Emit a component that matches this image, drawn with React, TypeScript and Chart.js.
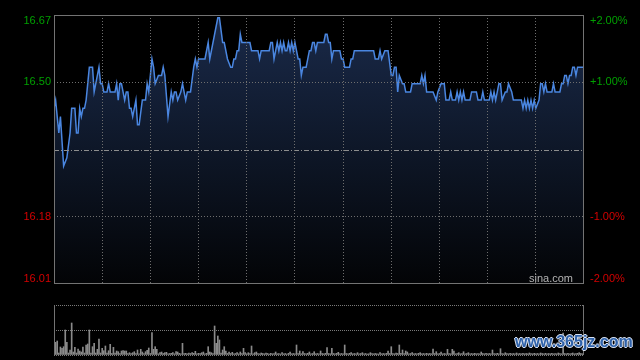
import React, { useEffect, useRef } from 'react';
import { Chart, registerables } from 'chart.js';

Chart.register(...registerables);

// ---- data ----
const prevClose = 16.34;
const sessionMinutes = 330; // 09:30-12:00, 13:00-16:00

const priceMinutes = [
  0, 1, 3, 4, 6, 8, 10, 11, 13, 14,
  15, 16, 17, 18, 19, 20, 22, 24, 25, 28,
  29, 30, 31, 33, 34, 35, 38, 39, 40, 41,
  42, 44, 45, 46, 47, 48, 49, 51, 52, 53,
  55, 57, 58, 59, 61, 62, 63, 65, 67, 68,
  69, 71, 73, 74, 75, 76, 77, 79, 80, 82,
  83, 85, 87, 88, 89, 90, 94, 96, 97, 100,
  102, 103, 105, 106, 108, 110, 111, 112, 113, 114,
  115, 116, 117, 122, 123, 127, 128, 129, 134, 135,
  136, 137, 139, 140, 141, 142, 143, 144, 145, 146,
  147, 148, 149, 150, 151, 152, 153, 154, 155, 157,
  159, 160, 161, 162, 163, 164, 168, 169, 170, 171,
  172, 173, 174, 178, 179, 180, 181, 184, 185, 186,
  187, 199, 200, 202, 203, 204, 206, 208, 210, 211,
  212, 213, 214, 215, 217, 218, 219, 222, 223, 228,
  229, 230, 231, 232, 236, 238, 239, 241, 243, 244,
  246, 247, 248, 250, 251, 252, 253, 254, 255, 256,
  259, 260, 263, 264, 266, 267, 268, 271, 272, 273,
  274, 275, 277, 278, 279, 281, 282, 283, 285, 286,
  291, 292, 293, 294, 295, 296, 297, 298, 299, 300,
  302, 303, 304, 305, 306, 307, 310, 311, 312, 315,
  316, 317, 318, 319, 320, 321, 322, 323, 324, 325,
  326, 330,
];

const prices = [
  16.44, 16.46, 16.38, 16.42, 16.30, 16.32, 16.38, 16.44, 16.44, 16.38,
  16.38, 16.44, 16.42, 16.44, 16.44, 16.46, 16.54, 16.54, 16.48, 16.54,
  16.50, 16.50, 16.48, 16.48, 16.50, 16.48, 16.48, 16.50, 16.46, 16.50,
  16.50, 16.46, 16.48, 16.48, 16.44, 16.44, 16.42, 16.46, 16.40, 16.40,
  16.46, 16.46, 16.50, 16.48, 16.56, 16.54, 16.50, 16.52, 16.52, 16.54,
  16.52, 16.42, 16.48, 16.46, 16.48, 16.48, 16.46, 16.48, 16.50, 16.46,
  16.48, 16.48, 16.54, 16.56, 16.54, 16.56, 16.56, 16.60, 16.56, 16.62,
  16.66, 16.66, 16.60, 16.60, 16.56, 16.54, 16.54, 16.56, 16.56, 16.58,
  16.58, 16.62, 16.60, 16.60, 16.58, 16.58, 16.56, 16.58, 16.58, 16.60,
  16.60, 16.56, 16.60, 16.58, 16.60, 16.58, 16.60, 16.58, 16.58, 16.60,
  16.58, 16.60, 16.58, 16.60, 16.58, 16.56, 16.56, 16.52, 16.54, 16.54,
  16.58, 16.58, 16.60, 16.60, 16.58, 16.60, 16.60, 16.62, 16.62, 16.60,
  16.60, 16.56, 16.58, 16.58, 16.56, 16.56, 16.54, 16.54, 16.56, 16.56,
  16.58, 16.58, 16.56, 16.56, 16.58, 16.56, 16.58, 16.58, 16.52, 16.52,
  16.54, 16.54, 16.48, 16.52, 16.50, 16.50, 16.48, 16.48, 16.50, 16.50,
  16.52, 16.50, 16.52, 16.48, 16.48, 16.46, 16.48, 16.50, 16.50, 16.46,
  16.46, 16.48, 16.46, 16.46, 16.48, 16.46, 16.48, 16.46, 16.48, 16.46,
  16.46, 16.48, 16.48, 16.46, 16.46, 16.48, 16.46, 16.46, 16.48, 16.46,
  16.48, 16.46, 16.50, 16.50, 16.46, 16.48, 16.48, 16.50, 16.48, 16.46,
  16.46, 16.44, 16.46, 16.44, 16.46, 16.44, 16.46, 16.44, 16.46, 16.44,
  16.46, 16.50, 16.50, 16.48, 16.50, 16.48, 16.48, 16.50, 16.48, 16.48,
  16.50, 16.50, 16.52, 16.52, 16.50, 16.52, 16.52, 16.54, 16.54, 16.52,
  16.54, 16.54,
];

// volume per minute (minute 0 .. 330), arbitrary units
const volumes = [
  10, 12.7, 14, 2, 8, 6.7, 8.3, 25, 12.7, 2,
  5, 32, 3, 7.7, 2, 6, 4, 3, 8, 2,
  10, 11, 25, 2, 8.3, 11.7, 2, 5.7, 16, 2,
  6.7, 4.3, 9, 2, 4.3, 10.7, 1.5, 7.7, 2, 4,
  3.3, 1.5, 4, 4.3, 4, 4, 1.5, 2.3, 1.5, 2.3,
  3.3, 1.5, 5, 1.2, 5.7, 3, 1.5, 3.3, 4.7, 7,
  1.5, 22.3, 5.7, 8.3, 5.7, 1.2, 2.3, 3, 1.5, 2.3,
  2.7, 1.2, 1.5, 1.7, 2.3, 1.2, 3.3, 3, 1.7, 1.2,
  11.7, 1.5, 1.7, 1.2, 2, 1.5, 2.3, 1.7, 3.7, 1.2,
  1.7, 1.5, 2.3, 3, 1.2, 1.7, 8.3, 3, 2.3, 1.5,
  29, 11.7, 19, 15, 2, 5, 8.3, 4, 1.5, 3,
  1.5, 2.7, 1.2, 1.5, 2.3, 1.2, 3, 1.5, 6.7, 2.3,
  1.2, 2.3, 1.5, 9, 1.2, 2.3, 3, 1.5, 1.2, 2,
  1.5, 1.2, 2, 1.5, 1, 1.7, 1.2, 1.5, 3, 1.2,
  1.5, 1, 2.3, 1.2, 1.5, 1, 1.7, 3, 1.2, 1.5,
  1.2, 10, 1.5, 4, 1.2, 3.3, 1.5, 1.2, 1.7, 3,
  1.2, 1.5, 3.3, 1.2, 1.5, 1.2, 4, 1.5, 1.2, 1.7,
  7.3, 1.5, 1.2, 6.7, 1.5, 1.2, 1.7, 2.7, 1.2, 1.5,
  1.2, 10, 1.5, 1.2, 1.7, 2.3, 1.2, 1.5, 1.2, 2.3,
  1.2, 1.5, 2.3, 1.2, 1.5, 1, 1.2, 2.3, 1.5, 1.2,
  1.5, 1.2, 1, 2.3, 1.2, 1.5, 1.2, 1.7, 4, 1.5,
  8.3, 1.5, 1.2, 2, 1.5, 10, 1.7, 5, 1.5, 4,
  3, 1.2, 1.5, 2.3, 1.2, 1.5, 1.2, 1.7, 2.3, 1.2,
  1.5, 1.2, 1.7, 1.2, 1.5, 1.2, 6, 1.5, 3.3, 1.2,
  1.5, 3, 1.2, 1.5, 1.2, 5.7, 1.5, 1.2, 5.7, 4,
  1.2, 1.5, 2.3, 1.2, 1.5, 3.3, 1.2, 1.5, 2.3, 1.2,
  1.5, 1.2, 1.7, 1.2, 1.5, 1.2, 3, 1.5, 1.2, 1.7,
  1.2, 1.5, 1.2, 5, 1.5, 1.2, 1.7, 1.2, 6.3, 1.5,
  1.2, 2.3, 1.5, 1.2, 1.7, 1.2, 1.5, 1.2, 2, 1.2,
  1.5, 1.2, 1.7, 1.2, 1.5, 1.2, 2, 1.5, 1.2, 1.7,
  1.2, 1.5, 1.2, 2, 1.5, 1.2, 1.7, 1.2, 1.5, 1.2,
  1.7, 1.2, 1.5, 1.2, 2, 1.5, 1.2, 22, 1.5, 1.2,
  1.7, 1.2, 1.5, 2, 1.2, 1.5, 1.7, 2.3, 1.5, 1.2,
  2,
];
const volumeMax = 50;

const pctTicks = [2, 1, -1, -2];
const priceTickLabels = ['16.67', '16.50', '16.18', '16.01'];
const pctTickLabels = ['+2.00%', '+1.00%', '-1.00%', '-2.00%'];
const gridStepMinutes = 30;

const FONT = '"Liberation Sans", Arial, Helvetica, sans-serif';
const GREEN = '#00a000';
const RED = '#d40000';
const GRID = '#6e6e6e';
const FRAME = '#737373';

const priceOverlay = {
  id: 'priceOverlay',
  afterDatasetsDraw(chart: any) {
    const { ctx, chartArea: ca, scales } = chart;
    const yc = Math.round(scales.y2.getPixelForValue(0)) + 0.5;
    ctx.save();
    ctx.strokeStyle = '#8e8e8e';
    ctx.lineWidth = 1;
    ctx.setLineDash([5, 2, 1, 2]);
    ctx.beginPath();
    ctx.moveTo(ca.left, yc);
    ctx.lineTo(ca.right, yc);
    ctx.stroke();
    ctx.restore();
  },
  afterDraw(chart: any) {
    const { ctx, chartArea: ca, scales } = chart;
    ctx.save();
    ctx.strokeStyle = FRAME;
    ctx.lineWidth = 1;
    ctx.strokeRect(Math.round(ca.left) + 0.5, Math.round(ca.top) + 0.5,
      Math.round(ca.right - ca.left) - 1, Math.round(ca.bottom - ca.top) - 1);
    ctx.font = `11px ${FONT}`;
    ctx.textBaseline = 'middle';
    pctTicks.forEach((p, i) => {
      let y = scales.y2.getPixelForValue(p);
      y = Math.max(ca.top + 5.5, Math.min(ca.bottom - 5.5, y));
      ctx.fillStyle = p > 0 ? GREEN : RED;
      ctx.textAlign = 'right';
      ctx.fillText(priceTickLabels[i], ca.left - 3, y);
      ctx.textAlign = 'left';
      ctx.fillText(pctTickLabels[i], ca.right + 6, y);
    });
    ctx.fillStyle = '#b4b4b4';
    ctx.textAlign = 'right';
    ctx.fillText('sina.com', ca.right - 11, ca.bottom - 5);
    ctx.restore();
  },
};

const volumeOverlay = {
  id: 'volumeOverlay',
  afterDraw(chart: any) {
    const { ctx, chartArea: ca } = chart;
    ctx.save();
    ctx.strokeStyle = FRAME;
    ctx.lineWidth = 1;
    const l = Math.round(ca.left) + 0.5;
    const r = Math.round(ca.right) - 0.5;
    ctx.beginPath();
    ctx.moveTo(l, ca.top);
    ctx.lineTo(l, ca.bottom);
    ctx.moveTo(r, ca.top);
    ctx.lineTo(r, ca.bottom);
    ctx.stroke();
    ctx.restore();
  },
};

export default function App() {
  const priceRef = useRef<HTMLCanvasElement>(null);
  const volRef = useRef<HTMLCanvasElement>(null);

  useEffect(() => {
    const pc = priceRef.current!;
    const vc = volRef.current!;

    const priceChart = new Chart(pc, {
      type: 'line',
      data: {
        datasets: [
          {
            data: priceMinutes.map((m, i) => ({ x: m, y: prices[i] })),
            borderColor: '#4a86e0',
            borderWidth: 1.5,
            pointRadius: 0,
            tension: 0,
            fill: 'start',
            backgroundColor: (c: any) => {
              const chart = c.chart;
              const ca = chart.chartArea;
              if (!ca) return 'rgba(0,0,0,0)';
              const g = chart.ctx.createLinearGradient(0, ca.top, 0, ca.bottom);
              g.addColorStop(0, 'rgb(26,42,74)');
              g.addColorStop(0.5, 'rgb(14,23,40)');
              g.addColorStop(1, 'rgb(3,4,6)');
              return g;
            },
          },
        ],
      },
      options: {
        responsive: false,
        animation: false,
        devicePixelRatio: 1,
        layout: { padding: { left: 54, right: 56, top: 15, bottom: 16 } },
        plugins: { legend: { display: false }, tooltip: { enabled: false } },
        scales: {
          x: {
            type: 'linear',
            min: 0,
            max: sessionMinutes,
            ticks: { display: false, stepSize: gridStepMinutes },
            grid: {
              z: 1,
              drawTicks: false,
              color: (c: any) =>
                c.tick && (c.tick.value <= 0 || c.tick.value >= sessionMinutes) ? 'rgba(0,0,0,0)' : GRID,
            },
            border: { display: false, dash: [1, 2] },
            afterFit: (s: any) => { s.height = 0; },
          },
          y: {
            min: prevClose * 0.98,
            max: prevClose * 1.02,
            afterBuildTicks: (s: any) => {
              s.ticks = [prevClose * 0.99, prevClose * 1.01].map((v) => ({ value: v }));
            },
            ticks: { display: false },
            grid: { z: 1, drawTicks: false, color: GRID },
            border: { display: false, dash: [1, 2] },
            afterFit: (s: any) => { s.width = 0; },
          },
          y2: {
            position: 'right',
            min: -2,
            max: 2,
            ticks: { display: false },
            grid: { display: false },
            border: { display: false },
            afterFit: (s: any) => { s.width = 0; },
          },
        },
      } as any,
      plugins: [priceOverlay],
    });

    const volChart = new Chart(vc, {
      type: 'bar',
      data: {
        datasets: [
          {
            data: volumes.map((v, i) => ({ x: i, y: v })),
            backgroundColor: '#8a8a8a',
            barThickness: 1,
            borderWidth: 0,
          },
        ],
      },
      options: {
        responsive: false,
        animation: false,
        devicePixelRatio: 1,
        layout: { padding: { left: 54, right: 56, top: 5, bottom: 5 } },
        plugins: { legend: { display: false }, tooltip: { enabled: false } },
        scales: {
          x: {
            type: 'linear',
            min: 0,
            max: sessionMinutes,
            offset: false,
            ticks: { display: false },
            grid: { display: false },
            border: { display: false },
            afterFit: (s: any) => { s.height = 0; },
          },
          y: {
            min: 0,
            max: volumeMax,
            afterBuildTicks: (s: any) => {
              s.ticks = [0, volumeMax / 2, volumeMax].map((v) => ({ value: v }));
            },
            ticks: { display: false },
            grid: { drawTicks: false, color: '#7a7a7a' },
            border: { display: false, dash: [1, 1] },
            afterFit: (s: any) => { s.width = 0; },
          },
        },
      } as any,
      plugins: [volumeOverlay],
    });

    return () => {
      priceChart.destroy();
      volChart.destroy();
    };
  }, []);

  return (
    <div
      style={{
        position: 'fixed',
        left: 0,
        top: 0,
        width: 640,
        height: 360,
        background: '#000',
        overflow: 'hidden',
      }}
    >
      <canvas ref={priceRef} width={640} height={300} style={{ position: 'absolute', left: 0, top: 0, display: 'block' }} />
      <canvas ref={volRef} width={640} height={60} style={{ position: 'absolute', left: 0, top: 300, display: 'block' }} />
      <div
        style={{
          position: 'absolute',
          left: 515,
          top: 333,
          font: `bold 16px ${FONT}`,
          color: '#2f62aa',
          textShadow: '1px 0 0 #d8e0ee, -1px 0 0 #d8e0ee, 0 1px 0 #d8e0ee, 0 -1px 0 #d8e0ee',
          whiteSpace: 'nowrap',
          lineHeight: '18px',
        }}
      >
        www.365jz.com
      </div>
    </div>
  );
}
